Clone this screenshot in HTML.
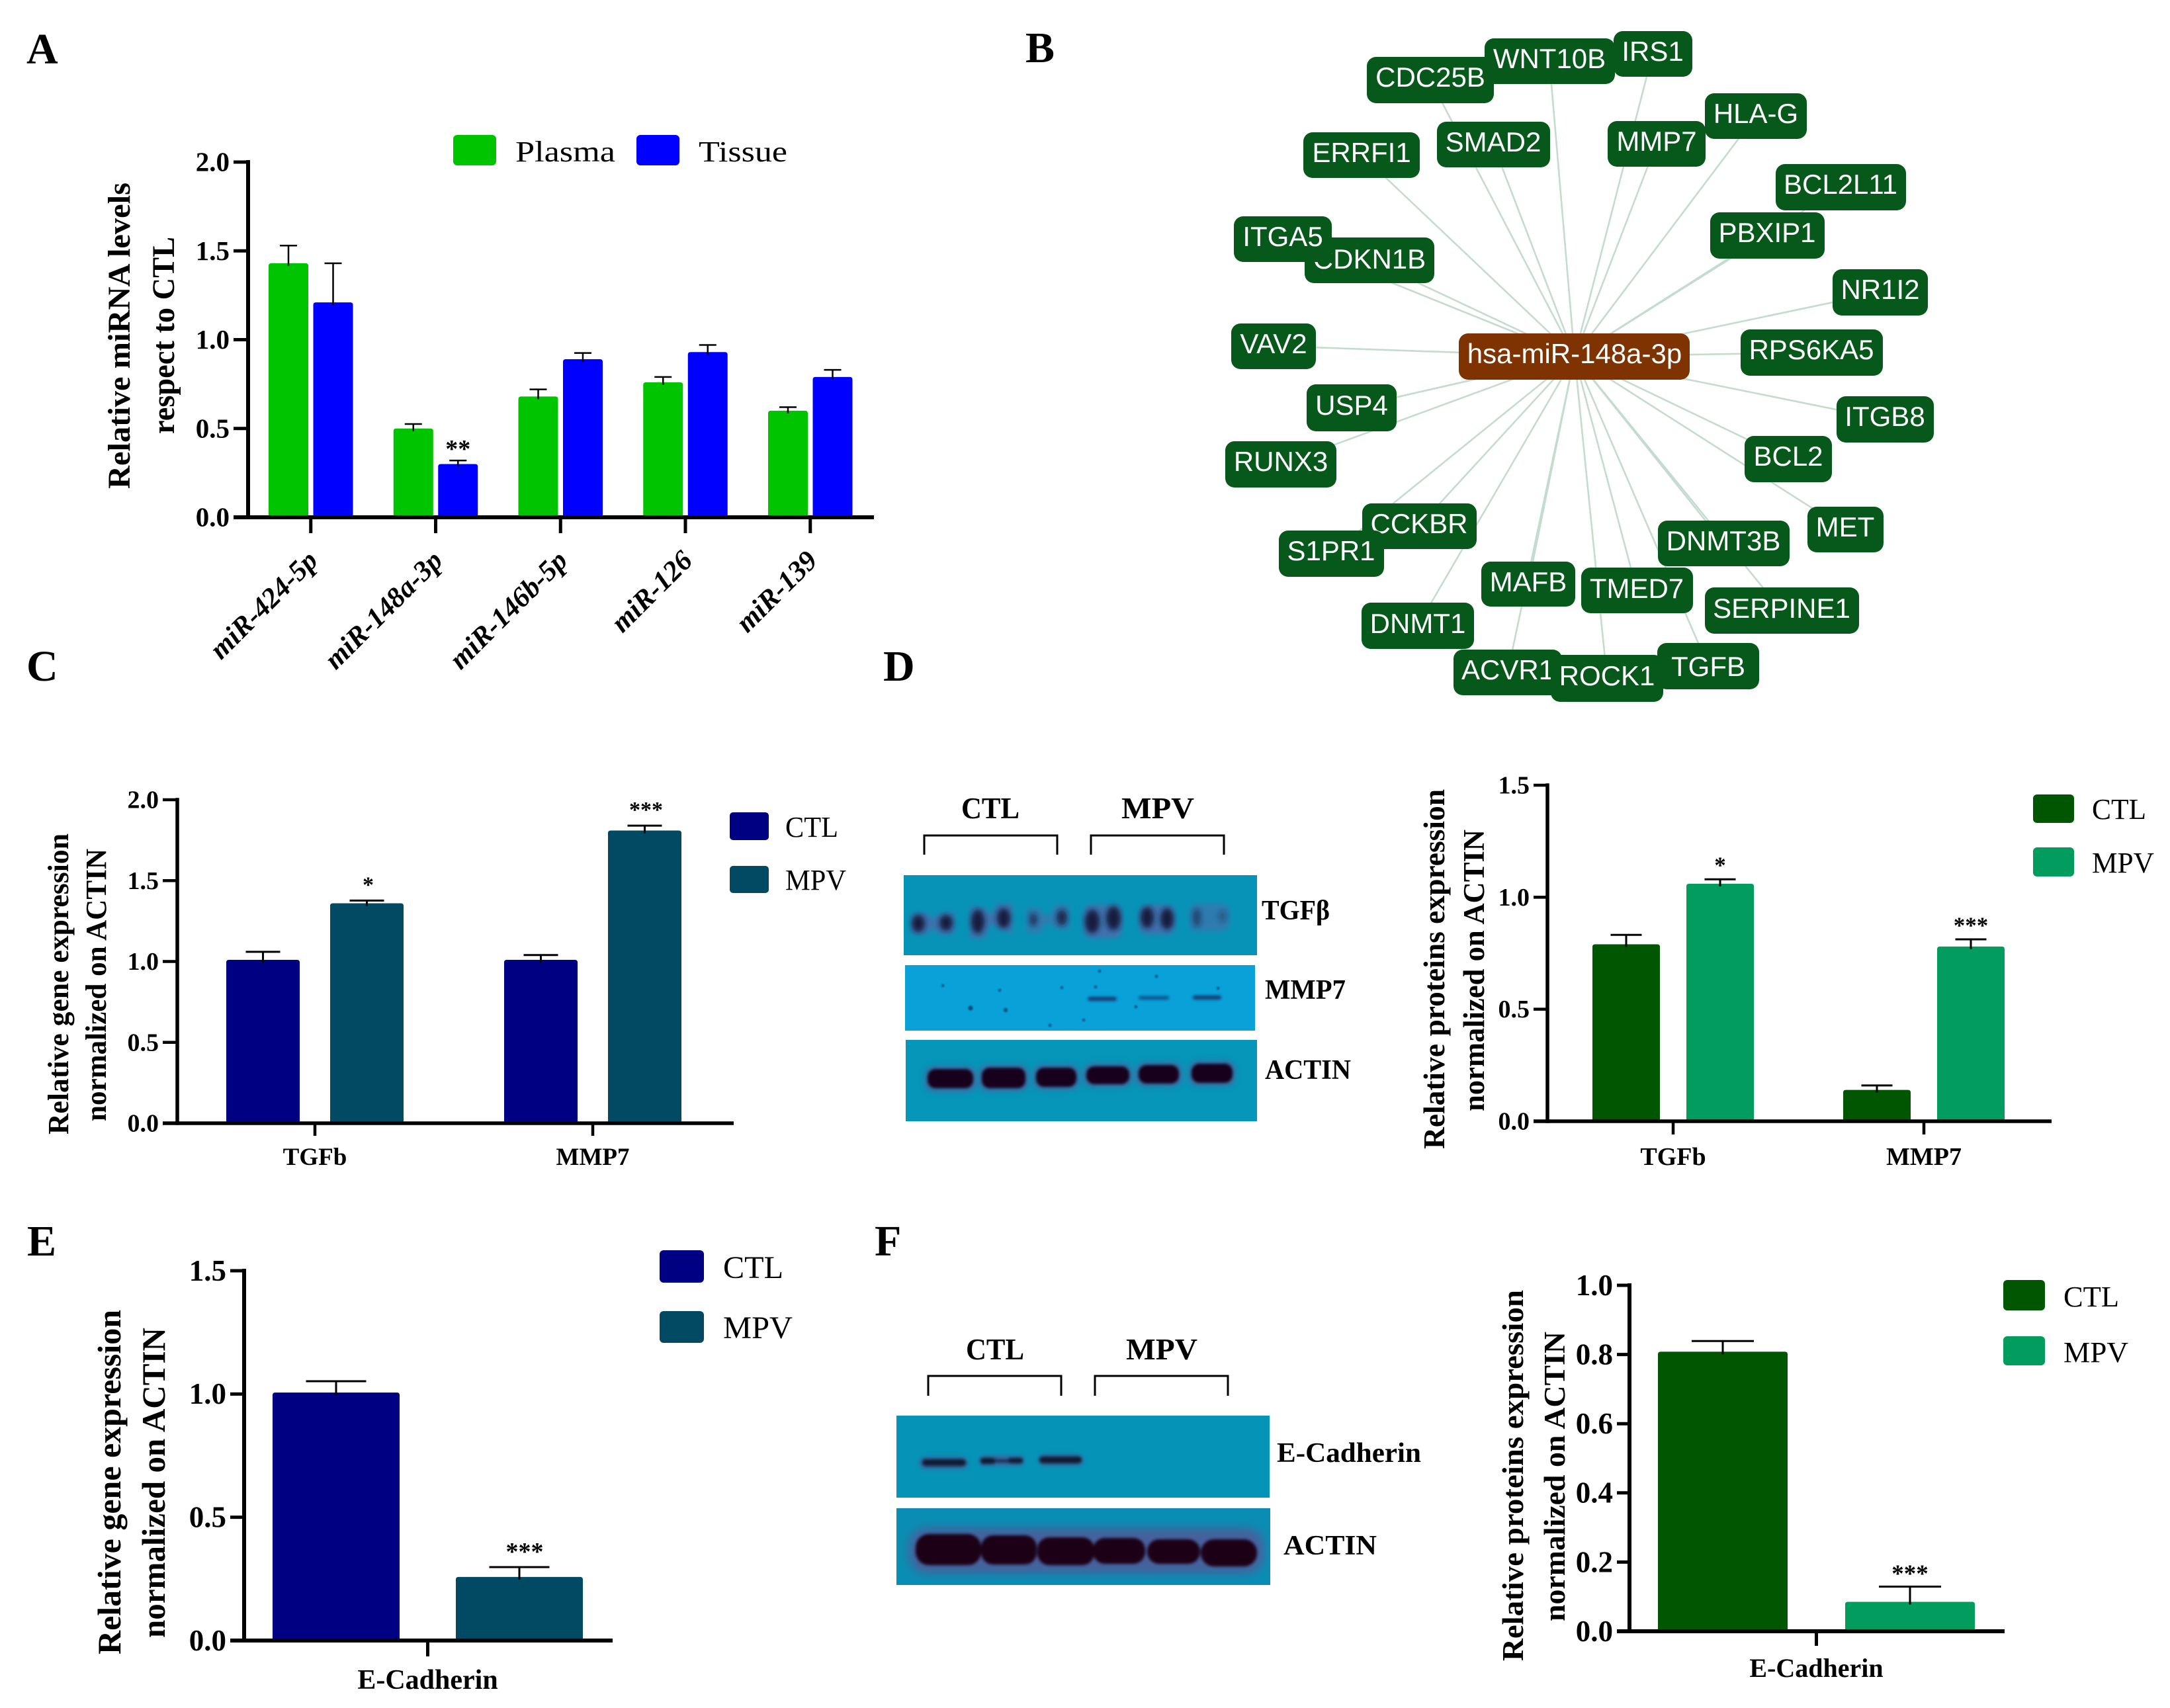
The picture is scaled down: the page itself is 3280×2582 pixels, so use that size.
<!DOCTYPE html>
<html lang="en">
<head>
<meta charset="utf-8">
<title>miR-148a-3p multi-panel figure</title>
<style>
html,body{margin:0;padding:0;background:#fff;}
svg{display:block;}
text{font-family:"Liberation Serif",serif;fill:#000;}
.net text{font-family:"Liberation Sans",sans-serif;font-size:42px;fill:#fff;text-anchor:middle;}
.net rect{fill:#06591a;}
.net line{stroke:#c3dccd;stroke-width:2.6;}
.letter{font-size:66px;font-weight:bold;}
.title{font-weight:bold;}
.blotlabel{font-weight:bold;font-size:42px;}
.leg{font-size:44px;}
.bracket{fill:none;stroke:#000;stroke-width:3;}
</style>
</head>
<body>
<svg id="figure" xmlns="http://www.w3.org/2000/svg" width="3280" height="2582" viewBox="0 0 3280 2582">
<defs>
<filter id="b1" x="-50%" y="-50%" width="200%" height="200%"><feGaussianBlur stdDeviation="1"/></filter>
<filter id="b2" x="-50%" y="-50%" width="200%" height="200%"><feGaussianBlur stdDeviation="2"/></filter>
<filter id="b4" x="-50%" y="-50%" width="200%" height="200%"><feGaussianBlur stdDeviation="4"/></filter>
<filter id="b7" x="-50%" y="-50%" width="200%" height="200%"><feGaussianBlur stdDeviation="7"/></filter>
</defs>
<rect width="3280" height="2582" fill="#fff"/>

<!-- panel letters -->
<text class="letter" x="40" y="96">A</text>
<text class="letter" x="1550" y="94">B</text>
<text class="letter" x="40" y="1029">C</text>
<text class="letter" x="1335" y="1029">D</text>
<text class="letter" x="41" y="1898">E</text>
<text class="letter" x="1322" y="1898">F</text>

<!-- panel A static -->
<g>
<text class="title" font-size="48" textLength="463" lengthAdjust="spacingAndGlyphs" transform="translate(196,739) rotate(-90)">Relative miRNA levels</text>
<text class="title" font-size="48" textLength="298" lengthAdjust="spacingAndGlyphs" transform="translate(263,656) rotate(-90)">respect to CTL</text>
</g>
<g>
<rect x="685" y="204" width="65" height="46" rx="6" fill="#00c400"/>
<text class="leg" x="779" y="244" textLength="151" lengthAdjust="spacingAndGlyphs">Plasma</text>
<rect x="962" y="204" width="65" height="46" rx="6" fill="#0000ff"/>
<text class="leg" x="1056" y="244" textLength="134" lengthAdjust="spacingAndGlyphs">Tissue</text>
</g>

<!-- panel B network -->
<g class="net">
<g>
<line x1="2380" y1="539" x2="2162" y2="121"/>
<line x1="2380" y1="539" x2="2342" y2="92"/>
<line x1="2380" y1="539" x2="2498" y2="81"/>
<line x1="2380" y1="539" x2="2654" y2="175"/>
<line x1="2380" y1="539" x2="2504" y2="217"/>
<line x1="2380" y1="539" x2="2257" y2="218"/>
<line x1="2380" y1="539" x2="2058" y2="234"/>
<line x1="2380" y1="539" x2="2782" y2="283"/>
<line x1="2380" y1="539" x2="2671" y2="356"/>
<line x1="2380" y1="539" x2="1939" y2="361"/>
<line x1="2380" y1="539" x2="2070" y2="393"/>
<line x1="2380" y1="539" x2="2842" y2="442"/>
<line x1="2380" y1="539" x2="1925" y2="523"/>
<line x1="2380" y1="539" x2="2738" y2="533"/>
<line x1="2380" y1="539" x2="2043" y2="616"/>
<line x1="2380" y1="539" x2="2849" y2="634"/>
<line x1="2380" y1="539" x2="1936" y2="702"/>
<line x1="2380" y1="539" x2="2703" y2="694"/>
<line x1="2380" y1="539" x2="2789" y2="800"/>
<line x1="2380" y1="539" x2="2145" y2="795"/>
<line x1="2380" y1="539" x2="2012" y2="837"/>
<line x1="2380" y1="539" x2="2605" y2="821"/>
<line x1="2380" y1="539" x2="2310" y2="883"/>
<line x1="2380" y1="539" x2="2474" y2="892"/>
<line x1="2380" y1="539" x2="2693" y2="923"/>
<line x1="2380" y1="539" x2="2143" y2="946"/>
<line x1="2380" y1="539" x2="2279" y2="1016"/>
<line x1="2380" y1="539" x2="2429" y2="1025"/>
<line x1="2380" y1="539" x2="2582" y2="1007"/>
</g>
<g><rect x="2066" y="86" width="192" height="70" rx="14"/><text x="2162" y="131">CDC25B</text></g>
<g><rect x="2244" y="58" width="197" height="69" rx="14"/><text x="2342" y="103">WNT10B</text></g>
<g><rect x="2439" y="47" width="119" height="69" rx="14"/><text x="2498" y="92">IRS1</text></g>
<g><rect x="2577" y="141" width="154" height="69" rx="14"/><text x="2654" y="186">HLA-G</text></g>
<g><rect x="2430" y="183" width="148" height="69" rx="14"/><text x="2504" y="228">MMP7</text></g>
<g><rect x="2172" y="184" width="171" height="69" rx="14"/><text x="2257" y="229">SMAD2</text></g>
<g><rect x="1970" y="200" width="176" height="69" rx="14"/><text x="2058" y="245">ERRFI1</text></g>
<g><rect x="2684" y="248" width="197" height="70" rx="14"/><text x="2782" y="293">BCL2L11</text></g>
<g><rect x="2585" y="321" width="173" height="70" rx="14"/><text x="2671" y="366">PBXIP1</text></g>
<g><rect x="1972" y="359" width="196" height="69" rx="14"/><text x="2070" y="406">CDKN1B</text></g>
<g><rect x="1865" y="327" width="148" height="69" rx="14"/><text x="1939" y="372">ITGA5</text></g>
<g><rect x="2770" y="407" width="144" height="70" rx="14"/><text x="2842" y="452">NR1I2</text></g>
<g><rect x="1861" y="489" width="128" height="69" rx="14"/><text x="1925" y="534">VAV2</text></g>
<g><rect x="2631" y="498" width="215" height="70" rx="14"/><text x="2738" y="543">RPS6KA5</text></g>
<g><rect x="1975" y="581" width="136" height="71" rx="14"/><text x="2043" y="627">USP4</text></g>
<g><rect x="2776" y="599" width="147" height="70" rx="14"/><text x="2849" y="644">ITGB8</text></g>
<g><rect x="1852" y="667" width="168" height="70" rx="14"/><text x="1936" y="712">RUNX3</text></g>
<g><rect x="2637" y="659" width="132" height="70" rx="14"/><text x="2703" y="704">BCL2</text></g>
<g><rect x="2732" y="766" width="115" height="69" rx="14"/><text x="2789" y="811">MET</text></g>
<g><rect x="2059" y="761" width="173" height="69" rx="14"/><text x="2145" y="806">CCKBR</text></g>
<g><rect x="1933" y="802" width="159" height="70" rx="14"/><text x="2012" y="847">S1PR1</text></g>
<g><rect x="2506" y="787" width="199" height="69" rx="14"/><text x="2605" y="832">DNMT3B</text></g>
<g><rect x="2239" y="849" width="142" height="68" rx="14"/><text x="2310" y="894">MAFB</text></g>
<g><rect x="2390" y="858" width="169" height="69" rx="14"/><text x="2474" y="904">TMED7</text></g>
<g><rect x="2577" y="888" width="233" height="70" rx="14"/><text x="2693" y="934">SERPINE1</text></g>
<g><rect x="2058" y="911" width="170" height="70" rx="14"/><text x="2143" y="957">DNMT1</text></g>
<g><rect x="2197" y="982" width="164" height="69" rx="14"/><text x="2279" y="1027">ACVR1</text></g>
<g><rect x="2505" y="972" width="154" height="70" rx="14"/><text x="2582" y="1022">TGFB</text></g>
<g><rect x="2344" y="990" width="170" height="71" rx="14"/><text x="2429" y="1036">ROCK1</text></g>
<g><rect x="2205" y="504" width="349" height="70" rx="14" style="fill:#7e3300"/><text x="2380" y="549">hsa-miR-148a-3p</text></g>
</g>

<!-- panel C static -->
<g>
<text class="title" font-size="44" textLength="455" lengthAdjust="spacingAndGlyphs" transform="translate(103,1715) rotate(-90)">Relative gene expression</text>
<text class="title" font-size="44" textLength="412" lengthAdjust="spacingAndGlyphs" transform="translate(160,1695) rotate(-90)">normalized on ACTIN</text>
</g>
<g>
<rect x="1103" y="1228" width="59" height="42" rx="5" fill="#000082"/>
<text class="leg" x="1187" y="1265" textLength="80" lengthAdjust="spacingAndGlyphs">CTL</text>
<rect x="1103" y="1309" width="59" height="41" rx="5" fill="#024a63"/>
<text class="leg" x="1187" y="1345" textLength="92" lengthAdjust="spacingAndGlyphs">MPV</text>
</g>

<!-- panel D blots -->
<g>
<text font-size="46" font-weight="bold" x="1453" y="1237" textLength="88" lengthAdjust="spacingAndGlyphs">CTL</text>
<text font-size="46" font-weight="bold" x="1695" y="1237" textLength="110" lengthAdjust="spacingAndGlyphs">MPV</text>
<path class="bracket" d="M1397 1292V1263H1598V1292"/>
<path class="bracket" d="M1649 1292V1263H1850V1292"/>
<rect x="1366" y="1323" width="534" height="121" fill="#0793b7"/>
<g>
<g fill="#4a6cab" filter="url(#b4)" opacity=".85">
<path d="M1378 1380L1400 1380L1410 1390L1420 1380L1442 1380L1442 1412L1420 1412L1410 1402L1400 1412L1378 1412Z"/>
<path d="M1466 1372L1488 1372L1498 1384L1508 1366L1530 1366L1530 1410L1508 1404L1498 1394L1488 1418L1466 1418Z"/>
<path d="M1552 1372L1572 1374L1584 1388L1596 1368L1616 1368L1616 1404L1596 1404L1584 1392L1572 1410L1552 1410Z" opacity=".75"/>
<rect x="1638" y="1368" width="58" height="50" rx="12"/><rect x="1722" y="1368" width="54" height="44" rx="12"/><rect x="1798" y="1366" width="60" height="42" rx="12" opacity=".7"/>
</g>
<g fill="#151a40" filter="url(#b4)">
<ellipse cx="1388" cy="1396" rx="10" ry="13"/><ellipse cx="1430" cy="1395" rx="10" ry="12"/><ellipse cx="1478" cy="1393" rx="10" ry="18"/><ellipse cx="1517" cy="1388" rx="10" ry="15"/><ellipse cx="1562" cy="1390" rx="6" ry="10" opacity=".7"/><ellipse cx="1605" cy="1387" rx="8" ry="12" opacity=".85"/><ellipse cx="1651" cy="1393" rx="11" ry="18"/><ellipse cx="1683" cy="1388" rx="11" ry="18"/><ellipse cx="1734" cy="1387" rx="10" ry="16"/><ellipse cx="1764" cy="1389" rx="10" ry="16"/><ellipse cx="1809" cy="1387" rx="6" ry="14" opacity=".6"/><ellipse cx="1848" cy="1385" rx="6" ry="9" opacity=".35"/>
</g>
</g>
<text class="blotlabel" x="1907" y="1390" textLength="103" lengthAdjust="spacingAndGlyphs">TGFβ</text>
<rect x="1368" y="1459" width="529" height="99" fill="#0aa0d8"/>
<g>
<g fill="#123a72" filter="url(#b2)"><rect x="1644" y="1507" width="44" height="6" rx="3"/><rect x="1721" y="1506" width="46" height="5" rx="3" opacity=".8"/><rect x="1803" y="1505" width="43" height="6" rx="3"/></g>
<g fill="#0c2a55" filter="url(#b1)" opacity=".75"><circle cx="1425" cy="1490" r="2"/><circle cx="1467" cy="1524" r="3.5"/><circle cx="1520" cy="1527" r="3"/><circle cx="1511" cy="1497" r="2"/><circle cx="1605" cy="1493" r="2"/><circle cx="1662" cy="1468" r="2"/><circle cx="1656" cy="1492" r="2"/><circle cx="1748" cy="1476" r="2"/><circle cx="1717" cy="1522" r="2"/><circle cx="1638" cy="1542" r="2"/><circle cx="1587" cy="1550" r="2"/><circle cx="1841" cy="1494" r="2"/></g>
</g>
<text class="blotlabel" x="1912" y="1510" textLength="122" lengthAdjust="spacingAndGlyphs">MMP7</text>
<rect x="1369" y="1572" width="531" height="123" fill="#0596b9"/>
<g>
<g fill="#3f6ba3" filter="url(#b4)" opacity=".85"><rect x="1397" y="1611" width="79" height="40" rx="14"/><rect x="1479" y="1609" width="76" height="41" rx="14"/><rect x="1561" y="1609" width="71" height="39" rx="14"/><rect x="1637" y="1607" width="75" height="37" rx="14"/><rect x="1716" y="1605" width="71" height="38" rx="14"/><rect x="1796" y="1603" width="72" height="39" rx="14"/></g>
<g fill="#14061e" filter="url(#b2)"><rect x="1402" y="1616" width="69" height="29" rx="12"/><rect x="1484" y="1614" width="66" height="31" rx="12"/><rect x="1566" y="1614" width="61" height="29" rx="12"/><rect x="1642" y="1612" width="65" height="27" rx="12"/><rect x="1721" y="1610" width="61" height="28" rx="12"/><rect x="1801" y="1608" width="62" height="29" rx="12"/></g>
</g>
<text class="blotlabel" x="1912" y="1631" textLength="130" lengthAdjust="spacingAndGlyphs">ACTIN</text>
</g>

<!-- panel D chart static -->
<g>
<text class="title" font-size="45" textLength="544" lengthAdjust="spacingAndGlyphs" transform="translate(2183,1737) rotate(-90)">Relative proteins expression</text>
<text class="title" font-size="45" textLength="426" lengthAdjust="spacingAndGlyphs" transform="translate(2243,1680) rotate(-90)">normalized on ACTIN</text>
</g>
<g>
<rect x="3073" y="1201" width="62" height="43" rx="6" fill="#015601"/>
<text class="leg" x="3162" y="1238" textLength="82" lengthAdjust="spacingAndGlyphs">CTL</text>
<rect x="3073" y="1281" width="62" height="44" rx="6" fill="#029d5e"/>
<text class="leg" x="3162" y="1319" textLength="94" lengthAdjust="spacingAndGlyphs">MPV</text>
</g>

<!-- panel E static -->
<g>
<text class="title" font-size="50" textLength="521" lengthAdjust="spacingAndGlyphs" transform="translate(182,2501) rotate(-90)">Relative gene expression</text>
<text class="title" font-size="50" textLength="469" lengthAdjust="spacingAndGlyphs" transform="translate(249,2476) rotate(-90)">normalized on ACTIN</text>
</g>
<g>
<rect x="997" y="1890" width="67" height="49" rx="6" fill="#000082"/>
<text class="leg" style="font-size:48px" x="1093" y="1932" textLength="91" lengthAdjust="spacingAndGlyphs">CTL</text>
<rect x="997" y="1982" width="67" height="48" rx="6" fill="#024a63"/>
<text class="leg" style="font-size:48px" x="1093" y="2023" textLength="105" lengthAdjust="spacingAndGlyphs">MPV</text>
</g>

<!-- panel F blots -->
<g>
<text font-size="46" font-weight="bold" x="1460" y="2055" textLength="88" lengthAdjust="spacingAndGlyphs">CTL</text>
<text font-size="46" font-weight="bold" x="1702" y="2055" textLength="108" lengthAdjust="spacingAndGlyphs">MPV</text>
<path class="bracket" d="M1403 2110V2080H1604V2110"/>
<path class="bracket" d="M1655 2110V2080H1856V2110"/>
<rect x="1355" y="2140" width="564" height="124" fill="#0594b8"/>
<g>
<g fill="#3d5f95" filter="url(#b4)"><rect x="1390" y="2203" width="72" height="17" rx="8"/><rect x="1480" y="2201" width="68" height="14" rx="7"/><rect x="1570" y="2199" width="67" height="16" rx="8"/></g>
<g fill="#0f1a35" filter="url(#b2)"><rect x="1394" y="2206" width="66" height="10" rx="5"/><rect x="1482" y="2204" width="22" height="9" rx="4"/><rect x="1500" y="2207" width="30" height="3" rx="1.5"/><rect x="1524" y="2204" width="22" height="8" rx="4"/><rect x="1571" y="2202" width="64" height="10" rx="5"/></g>
</g>
<text class="blotlabel" x="1930" y="2210" textLength="218" lengthAdjust="spacingAndGlyphs">E-Cadherin</text>
<rect x="1355" y="2280" width="565" height="116" fill="#0a8db4"/>
<g>
<rect x="1374" y="2310" width="536" height="68" rx="26" fill="#47619c" filter="url(#b7)"/>
<g fill="#1a0618" filter="url(#b2)"><rect x="1384" y="2319" width="99" height="47" rx="20"/><rect x="1483" y="2321" width="84" height="44" rx="18"/><rect x="1568" y="2324" width="86" height="42" rx="18"/><rect x="1652" y="2325" width="79" height="39" rx="18"/><rect x="1734" y="2327" width="80" height="37" rx="18"/><rect x="1815" y="2327" width="85" height="41" rx="20"/></g>
</g>
<text class="blotlabel" x="1940" y="2350" textLength="141" lengthAdjust="spacingAndGlyphs">ACTIN</text>
</g>

<!-- panel F chart static -->
<g>
<text class="title" font-size="45" textLength="561" lengthAdjust="spacingAndGlyphs" transform="translate(2302,2511) rotate(-90)">Relative proteins expression</text>
<text class="title" font-size="45" textLength="438" lengthAdjust="spacingAndGlyphs" transform="translate(2365,2451) rotate(-90)">normalized on ACTIN</text>
</g>
<g>
<rect x="3028" y="1935" width="63" height="46" rx="6" fill="#015601"/>
<text class="leg" x="3119" y="1975" textLength="84" lengthAdjust="spacingAndGlyphs">CTL</text>
<rect x="3028" y="2020" width="63" height="44" rx="6" fill="#029d5e"/>
<text class="leg" x="3119" y="2059" textLength="98" lengthAdjust="spacingAndGlyphs">MPV</text>
</g>

<g id="charts"></g>
</svg>

<script>
// ---- panel A data ----
const aCategories = ['miR-424-5p', 'miR-148a-3p', 'miR-146b-5p', 'miR-126', 'miR-139'];
const aPlasmaValues = [1.43, 0.50, 0.68, 0.76, 0.60];
const aPlasmaErrors = [0.10, 0.025, 0.04, 0.03, 0.02];
const aPlasmaStars = ['', '', '', '', ''];
const aTissueValues = [1.21, 0.30, 0.89, 0.93, 0.79];
const aTissueErrors = [0.22, 0.02, 0.035, 0.04, 0.04];
const aTissueStars = ['', '**', '', '', ''];
const aTickLabels = ['0.0', '0.5', '1.0', '1.5', '2.0'];

// ---- panel C data ----
const cCategories = ['TGFb', 'MMP7'];
const cCtlValues = [1.01, 1.01];
const cCtlErrors = [0.05, 0.03];
const cCtlStars = ['', ''];
const cMpvValues = [1.36, 1.81];
const cMpvErrors = [0.017, 0.03];
const cMpvStars = ['*', '***'];
const cTickLabels = ['0.0', '0.5', '1.0', '1.5', '2.0'];

// ---- panel D data ----
const dCategories = ['TGFb', 'MMP7'];
const dCtlValues = [0.79, 0.14];
const dCtlErrors = [0.042, 0.02];
const dCtlStars = ['', ''];
const dMpvValues = [1.06, 0.78];
const dMpvErrors = [0.02, 0.032];
const dMpvStars = ['*', '***'];
const dTickLabels = ['0.0', '0.5', '1.0', '1.5'];

// ---- panel E data ----
const eCategories = ['E-Cadherin'];
const eCtlValues = [1.006];
const eCtlErrors = [0.046];
const eCtlStars = [''];
const eMpvValues = [0.258];
const eMpvErrors = [0.04];
const eMpvStars = ['***'];
const eTickLabels = ['0.0', '0.5', '1.0', '1.5'];

// ---- panel F data ----
const fCategories = ['E-Cadherin'];
const fCtlValues = [0.808];
const fCtlErrors = [0.031];
const fCtlStars = [''];
const fMpvValues = [0.085];
const fMpvErrors = [0.044];
const fMpvStars = ['***'];
const fTickLabels = ['0.0', '0.2', '0.4', '0.6', '0.8', '1.0'];

const SVG_NS = document.getElementById('figure').namespaceURI;
function mk(parent, tag, attrs, txt) {
  const el = document.createElementNS(SVG_NS, tag);
  for (const k in attrs) el.setAttribute(k, attrs[k]);
  if (txt !== undefined) el.textContent = txt;
  parent.appendChild(el);
  return el;
}

function drawChart(c) {
  const root = document.getElementById('charts');
  const g = mk(root, 'g', {});
  
  

  const yScale = v => c.y0 - (v / c.yMax) * (c.y0 - c.yTop);
  const xBar = (gi, si) => c.left + gi * c.pitch + si * c.step;
  const xTick = gi => c.left + gi * c.pitch + (c.step + c.barW) / 2;

  c.series.forEach(function (s, si) {
    s.values.forEach(function (v, gi) {
      const x = xBar(gi, si), w = c.barW, top = yScale(v), r = 4;
      const bar = mk(g, 'path', {
        d: 'M' + x + ' ' + c.y0 + 'V' + (top + r) + 'Q' + x + ' ' + top + ' ' + (x + r) + ' ' + top +
           'H' + (x + w - r) + 'Q' + (x + w) + ' ' + top + ' ' + (x + w) + ' ' + (top + r) + 'V' + c.y0 + 'Z',
        fill: s.color
      });
      
      

      const cx = x + w / 2, errY = yScale(v + s.errors[gi]);
      const stem = mk(g, 'line', { x1: cx, x2: cx, y1: errY, y2: top + 4, stroke: '#000', 'stroke-width': c.errW });
      
      
      const cap = mk(g, 'line', { x1: cx - c.capW / 2, x2: cx + c.capW / 2, y1: errY, y2: errY, stroke: '#000', 'stroke-width': c.errW });
      
      

      if (s.stars[gi]) {
        const star = mk(g, 'text', {
          x: cx + c.starDx, y: errY - c.starOff + 0.47 * c.starFs,
          'font-size': c.starFs, 'font-weight': 'bold', 'text-anchor': 'middle'
        }, s.stars[gi]);
        
        
      }
    });
  });

  const yAxis = mk(g, 'line', { x1: c.axisX, x2: c.axisX, y1: c.yTop - c.axisW / 2, y2: c.y0 + c.axisW / 2, stroke: '#000', 'stroke-width': c.axisW });
  
  
  const xAxis = mk(g, 'line', { x1: c.tickLeft, x2: c.axisRight, y1: c.y0, y2: c.y0, stroke: '#000', 'stroke-width': c.axisW });
  
  

  c.ticks.forEach(function (label) {
    const y = yScale(parseFloat(label));
    const tick = mk(g, 'line', { x1: c.tickLeft, x2: c.axisX, y1: y, y2: y, stroke: '#000', 'stroke-width': c.axisW - 1 });
    
    
    const t = mk(g, 'text', {
      x: c.tickLeft - 6, y: y + 0.33 * c.tickFs, 'font-size': c.tickFs,
      'font-weight': 'bold', 'text-anchor': 'end'
    }, label);
    
    
  });

  c.cats.forEach(function (label, gi) {
    const x = xTick(gi);
    const tick = mk(g, 'line', { x1: x, x2: x, y1: c.y0, y2: c.tickBottom, stroke: '#000', 'stroke-width': c.axisW - 1 });
    
    
    const attrs = { 'font-size': c.catFs, 'font-weight': 'bold' };
    if (c.rotated) {
      attrs['font-style'] = 'italic';
      attrs['text-anchor'] = 'end';
      attrs.transform = 'translate(' + (x + 13) + ',' + c.catY + ') rotate(-45)';
    } else {
      attrs['text-anchor'] = 'middle';
      attrs.x = x;
      attrs.y = c.catY;
    }
    const t = mk(g, 'text', attrs, label);
    
    
  });
}

drawChart({
  cats: aCategories, ticks: aTickLabels,
  series: [
    { values: aPlasmaValues, errors: aPlasmaErrors, stars: aPlasmaStars, color: '#00c400' },
    { values: aTissueValues, errors: aTissueErrors, stars: aTissueStars, color: '#0000ff' }
  ],
  yMax: 2, y0: 782, yTop: 245, axisX: 375, tickLeft: 353, axisRight: 1321, tickBottom: 806,
  left: 406, barW: 60, step: 67.5, pitch: 188.75, capW: 26, errW: 2.5, axisW: 6,
  tickFs: 41, catFs: 43, catY: 850, rotated: true, starFs: 38, starOff: 23, starDx: 0
});
drawChart({
  cats: cCategories, ticks: cTickLabels,
  series: [
    { values: cCtlValues, errors: cCtlErrors, stars: cCtlStars, color: '#000082' },
    { values: cMpvValues, errors: cMpvErrors, stars: cMpvStars, color: '#024a63' }
  ],
  yMax: 2, y0: 1698, yTop: 1209, axisX: 268, tickLeft: 246, axisRight: 1109, tickBottom: 1717,
  left: 342, barW: 111, step: 157, pitch: 420, capW: 52, errW: 3, axisW: 5.5,
  tickFs: 38, catFs: 37, catY: 1761, starFs: 34, starOff: 29, starDx: 2
});
drawChart({
  cats: dCategories, ticks: dTickLabels,
  series: [
    { values: dCtlValues, errors: dCtlErrors, stars: dCtlStars, color: '#015601' },
    { values: dMpvValues, errors: dMpvErrors, stars: dMpvStars, color: '#029d5e' }
  ],
  yMax: 1.5, y0: 1695, yTop: 1187, axisX: 2339, tickLeft: 2318, axisRight: 3101, tickBottom: 1715,
  left: 2407, barW: 102, step: 142, pitch: 379, capW: 47, errW: 3, axisW: 5.5,
  tickFs: 38, catFs: 38, catY: 1761, starFs: 35, starOff: 26, starDx: 0
});
drawChart({
  cats: eCategories, ticks: eTickLabels,
  series: [
    { values: eCtlValues, errors: eCtlErrors, stars: eCtlStars, color: '#000082' },
    { values: eMpvValues, errors: eMpvErrors, stars: eMpvStars, color: '#024a63' }
  ],
  yMax: 1.5, y0: 2480, yTop: 1921, axisX: 369, tickLeft: 348, axisRight: 926, tickBottom: 2504,
  left: 412, barW: 192, step: 277, pitch: 0, capW: 91, errW: 3, axisW: 6,
  tickFs: 45, catFs: 42, catY: 2553, starFs: 38, starOff: 29, starDx: 8
});
drawChart({
  cats: fCategories, ticks: fTickLabels,
  series: [
    { values: fCtlValues, errors: fCtlErrors, stars: fCtlStars, color: '#015601' },
    { values: fMpvValues, errors: fMpvErrors, stars: fMpvStars, color: '#029d5e' }
  ],
  yMax: 1, y0: 2466, yTop: 1943, axisX: 2463, tickLeft: 2444, axisRight: 3030, tickBottom: 2488,
  left: 2506, barW: 196, step: 283, pitch: 0, capW: 94, errW: 3, axisW: 6,
  tickFs: 45, catFs: 40, catY: 2535, starFs: 37, starOff: 25, starDx: 0
});
</script>
</body>
</html>
